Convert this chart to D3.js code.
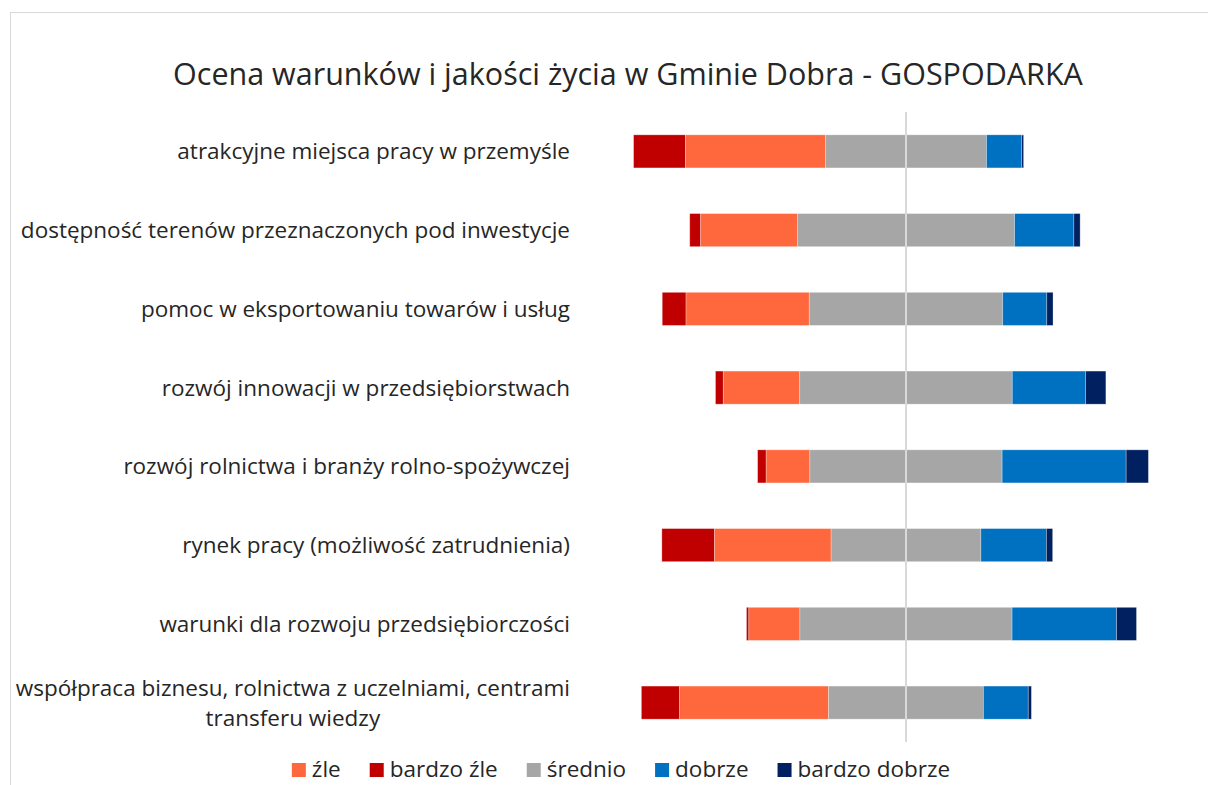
<!DOCTYPE html>
<html>
<head>
<meta charset="utf-8">
<script src="https://cdn.jsdelivr.net/npm/d3@7"></script>
<style>
  body { margin: 0; background: #fff; }
  svg { display: block; font-family: "Open Sans", sans-serif; }
</style>
</head>
<body>
<svg width="1208" height="785"></svg>
<script>
// categories (top to bottom)
const categories = [
  "atrakcyjne miejsca pracy w przemyśle",
  "dostępność terenów przeznaczonych pod inwestycje",
  "pomoc w eksportowaniu towarów i usług",
  "rozwój innowacji w przedsiębiorstwach",
  "rozwój rolnictwa i branży rolno-spożywczej",
  "rynek pracy (możliwość zatrudnienia)",
  "warunki dla rozwoju przedsiębiorczości",
  "współpraca biznesu, rolnictwa z uczelniami, centrami|transferu wiedzy"
];

// shares in %
const bardzoZle    = [13.3, 2.8, 6.1, 2.0, 2.2, 13.5, 0.6, 9.8];
const zle          = [35.9, 24.8, 31.6, 19.6, 11.2, 29.9, 13.1, 38.2];
const srednio      = [41.3, 55.7, 49.6, 54.5, 49.3, 38.4, 54.4, 39.7];
const dobrze       = [9.0, 15.2, 11.3, 18.8, 31.8, 16.8, 26.8, 11.5];
const bardzoDobrze = [0.5, 1.6, 1.6, 5.2, 5.7, 1.6, 5.1, 0.8];

const legendOrder = ["źle", "bardzo źle", "średnio", "dobrze", "bardzo dobrze"];

const colors = {
  "bardzo źle": "#C00000",
  "źle": "#FF683D",
  "średnio": "#A6A6A6",
  "dobrze": "#0070C0",
  "bardzo dobrze": "#002060"
};

const svg = d3.select("svg");

// chart border
svg.append("rect")
  .attr("x", 10.5).attr("y", 12.5)
  .attr("width", 1260).attr("height", 820)
  .attr("fill", "none")
  .attr("stroke", "#d9d9d9");

svg.append("text")
  .attr("x", 628).attr("y", 85)
  .attr("text-anchor", "middle")
  .attr("font-size", 30.5)
  .attr("fill", "#262626")
  .text("Ocena warunków i jakości życia w Gminie Dobra - GOSPODARKA");

const x = d3.scaleLinear().domain([-80, 80]).range([594, 1218]);
const y = d3.scaleBand().domain(categories).range([112, 742])
  .paddingInner(0.58).paddingOuter(0.29);

// build segments: bardzo źle, źle, średnio, dobrze, bardzo dobrze, średnio centred on 0
const rows = categories.map((c, i) => {
  let start = -(bardzoZle[i] + zle[i] + srednio[i] / 2);
  const parts = [
    ["bardzo źle", bardzoZle[i]],
    ["źle", zle[i]],
    ["średnio", srednio[i]],
    ["dobrze", dobrze[i]],
    ["bardzo dobrze", bardzoDobrze[i]]
  ];
  return parts.map(([k, v]) => {
    const seg = { cat: c, key: k, x0: start, x1: start + v };
    start += v;
    return seg;
  });
}).flat();

svg.append("g")
  .selectAll("rect")
  .data(rows)
  .join("rect")
  .attr("x", d => x(d.x0))
  .attr("y", d => y(d.cat))
  .attr("width", d => x(d.x1) - x(d.x0))
  .attr("height", y.bandwidth())
  .attr("fill", d => colors[d.key])
  .attr("stroke", "#ffffff")
  .attr("stroke-opacity", 0.35)
  .attr("stroke-width", 0.8);

// zero line
svg.append("line")
  .attr("x1", x(0)).attr("x2", x(0))
  .attr("y1", 112).attr("y2", 742)
  .attr("stroke", "#d9d9d9")
  .attr("stroke-width", 2);

// category labels
const labels = svg.append("g")
  .attr("font-size", 22.5)
  .attr("fill", "#262626");

categories.forEach(c => {
  const lines = c.split("|");
  const cy = y(c) + y.bandwidth() / 2;
  const t = labels.append("text").attr("text-anchor", "middle");
  lines.forEach((l, j) => {
    t.append("tspan")
      .attr("y", cy + 8 + (j - (lines.length - 1) / 2) * 30)
      .text(l);
  });
  const w = d3.max(t.selectAll("tspan").nodes(), n => n.getComputedTextLength());
  t.selectAll("tspan").attr("x", 570 - w / 2);
});

// legend
const legend = svg.append("g").attr("font-size", 22.5).attr("fill", "#262626");
let lx = 0;
legendOrder.forEach(k => {
  const g = legend.append("g").attr("transform", `translate(${lx},0)`);
  g.append("rect").attr("x", 0).attr("y", -14).attr("width", 14).attr("height", 14)
    .attr("fill", colors[k]);
  const t = g.append("text").attr("x", 20).attr("y", 0).text(k);
  lx += 20 + t.node().getComputedTextLength() + 29;
});
const lw = lx - 29;
legend.attr("transform", `translate(${621 - lw / 2},777)`);
</script>
</body>
</html>
